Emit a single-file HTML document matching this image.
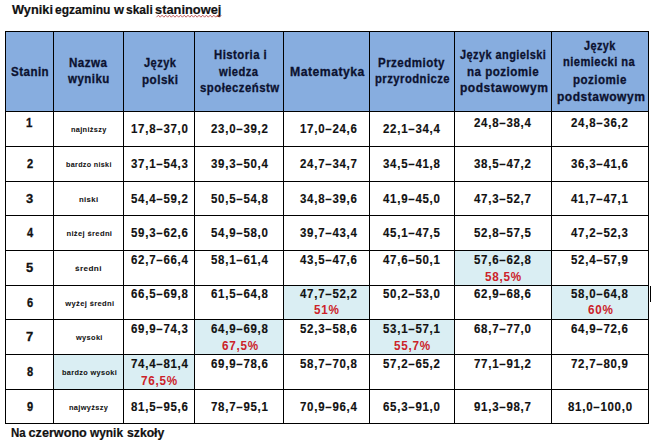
<!DOCTYPE html><html><head><meta charset="utf-8"><style>html,body{margin:0;padding:0;width:651px;height:440px;overflow:hidden;background:#fff}
.t{position:absolute;white-space:nowrap;font-family:"Liberation Sans", sans-serif;font-weight:bold;transform-origin:0 0;-webkit-text-stroke:0.15px currentColor}
.f{position:absolute}
.v{position:absolute;background:#000;width:1px}
.h{position:absolute;background:#000;height:1px}
</style></head><body><div class="f" style="left:5px;top:31px;width:643px;height:80px;background:#87addf"></div>
<div class="f" style="left:454px;top:250px;width:97px;height:35px;background:#daeef3"></div>
<div class="f" style="left:283px;top:285px;width:86px;height:34px;background:#daeef3"></div>
<div class="f" style="left:551px;top:285px;width:97px;height:34px;background:#daeef3"></div>
<div class="f" style="left:194px;top:319px;width:89px;height:35px;background:#daeef3"></div>
<div class="f" style="left:369px;top:319px;width:85px;height:35px;background:#daeef3"></div>
<div class="f" style="left:123px;top:354px;width:71px;height:35px;background:#daeef3"></div>
<div class="f" style="left:53px;top:354px;width:70px;height:35px;background:#daeef3"></div>
<div class="v" style="left:5px;top:31px;height:393px"></div>
<div class="v" style="left:53px;top:31px;height:393px"></div>
<div class="v" style="left:123px;top:31px;height:393px"></div>
<div class="v" style="left:194px;top:31px;height:393px"></div>
<div class="v" style="left:283px;top:31px;height:393px"></div>
<div class="v" style="left:369px;top:31px;height:393px"></div>
<div class="v" style="left:454px;top:31px;height:393px"></div>
<div class="v" style="left:551px;top:31px;height:393px"></div>
<div class="v" style="left:648px;top:31px;height:393px"></div>
<div class="h" style="left:5px;top:31px;width:644px"></div>
<div class="h" style="left:5px;top:111px;width:644px"></div>
<div class="h" style="left:5px;top:146px;width:644px"></div>
<div class="h" style="left:5px;top:181px;width:644px"></div>
<div class="h" style="left:5px;top:215px;width:644px"></div>
<div class="h" style="left:5px;top:250px;width:644px"></div>
<div class="h" style="left:5px;top:285px;width:644px"></div>
<div class="h" style="left:5px;top:319px;width:644px"></div>
<div class="h" style="left:5px;top:354px;width:644px"></div>
<div class="h" style="left:5px;top:389px;width:644px"></div>
<div class="h" style="left:5px;top:423px;width:644px"></div>
<div class="f" style="left:650px;top:286px;width:2px;height:16px;background:#000"></div>
<div class="t" style="left:11.95px;top:3.00px;font-size:13.37px;line-height:13.37px;letter-spacing:0.0px;color:#111111;-webkit-text-stroke:0.2px currentColor;transform:scaleX(0.9571)">Wyniki</div>
<div class="t" style="left:54.85px;top:3.00px;font-size:13.37px;line-height:13.37px;letter-spacing:0.0px;color:#111111;-webkit-text-stroke:0.2px currentColor;transform:scaleX(0.9000)">egzaminu</div>
<div class="t" style="left:113.55px;top:3.00px;font-size:13.37px;line-height:13.37px;letter-spacing:0.0px;color:#111111;-webkit-text-stroke:0.2px currentColor;transform:scaleX(0.9600)">w</div>
<div class="t" style="left:125.75px;top:3.00px;font-size:13.37px;line-height:13.37px;letter-spacing:0.0px;color:#111111;-webkit-text-stroke:0.2px currentColor;transform:scaleX(0.9000)">skali</div>
<div class="t" style="left:155.49px;top:3.00px;font-size:13.37px;line-height:13.37px;letter-spacing:0.0px;color:#111111;-webkit-text-stroke:0.2px currentColor;transform:scaleX(0.9612)">staninowej</div>
<div class="t" style="left:11.34px;top:426.90px;font-size:12.65px;line-height:12.65px;letter-spacing:0.0px;color:#111111;-webkit-text-stroke:0.2px currentColor;transform:scaleX(0.9067)">Na</div>
<div class="t" style="left:28.55px;top:426.90px;font-size:12.65px;line-height:12.65px;letter-spacing:0.0px;color:#111111;-webkit-text-stroke:0.2px currentColor;transform:scaleX(1.0000)">czerwono</div>
<div class="t" style="left:89.75px;top:426.90px;font-size:12.65px;line-height:12.65px;letter-spacing:0.0px;color:#111111;-webkit-text-stroke:0.2px currentColor;transform:scaleX(0.9400)">wynik</div>
<div class="t" style="left:126.59px;top:426.90px;font-size:12.65px;line-height:12.65px;letter-spacing:0.0px;color:#111111;-webkit-text-stroke:0.2px currentColor;transform:scaleX(0.9649)">szkoły</div>
<div class="t" style="left:10.72px;top:66.00px;font-size:12.50px;line-height:12.50px;letter-spacing:0.5px;color:#0c1230;-webkit-text-stroke:0.3px currentColor;transform:scaleX(0.9256)">Stanin</div>
<div class="t" style="left:68.82px;top:57.00px;font-size:12.50px;line-height:12.50px;letter-spacing:0.5px;color:#0c1230;-webkit-text-stroke:0.3px currentColor;transform:scaleX(0.9300)">Nazwa</div>
<div class="t" style="left:68.05px;top:73.40px;font-size:12.50px;line-height:12.50px;letter-spacing:0.5px;color:#0c1230;-webkit-text-stroke:0.3px currentColor;transform:scaleX(0.9205)">wyniku</div>
<div class="t" style="left:143.85px;top:57.00px;font-size:12.50px;line-height:12.50px;letter-spacing:0.5px;color:#0c1230;-webkit-text-stroke:0.3px currentColor;transform:scaleX(0.8861)">Język</div>
<div class="t" style="left:141.72px;top:73.60px;font-size:12.50px;line-height:12.50px;letter-spacing:0.5px;color:#0c1230;-webkit-text-stroke:0.3px currentColor;transform:scaleX(0.9324)">polski</div>
<div class="t" style="left:213.94px;top:48.70px;font-size:12.50px;line-height:12.50px;letter-spacing:0.5px;color:#0c1230;-webkit-text-stroke:0.3px currentColor;transform:scaleX(0.9089)">Historia i</div>
<div class="t" style="left:219.45px;top:66.10px;font-size:12.50px;line-height:12.50px;letter-spacing:0.5px;color:#0c1230;-webkit-text-stroke:0.3px currentColor;transform:scaleX(0.8955)">wiedza</div>
<div class="t" style="left:200.34px;top:82.10px;font-size:12.50px;line-height:12.50px;letter-spacing:0.5px;color:#0c1230;-webkit-text-stroke:0.3px currentColor;transform:scaleX(0.9116)">społeczeństw</div>
<div class="t" style="left:289.67px;top:65.60px;font-size:12.50px;line-height:12.50px;letter-spacing:0.5px;color:#0c1230;-webkit-text-stroke:0.3px currentColor;transform:scaleX(0.9773)">Matematyka</div>
<div class="t" style="left:377.83px;top:57.20px;font-size:12.50px;line-height:12.50px;letter-spacing:0.5px;color:#0c1230;-webkit-text-stroke:0.3px currentColor;transform:scaleX(0.9239)">Przedmioty</div>
<div class="t" style="left:375.15px;top:73.30px;font-size:12.50px;line-height:12.50px;letter-spacing:0.5px;color:#0c1230;-webkit-text-stroke:0.3px currentColor;transform:scaleX(0.9037)">przyrodnicze</div>
<div class="t" style="left:460.45px;top:48.90px;font-size:12.50px;line-height:12.50px;letter-spacing:0.5px;color:#0c1230;-webkit-text-stroke:0.3px currentColor;transform:scaleX(0.8763)">Język angielski</div>
<div class="t" style="left:467.02px;top:66.10px;font-size:12.50px;line-height:12.50px;letter-spacing:0.5px;color:#0c1230;-webkit-text-stroke:0.3px currentColor;transform:scaleX(0.9276)">na poziomie</div>
<div class="t" style="left:460.19px;top:81.80px;font-size:12.50px;line-height:12.50px;letter-spacing:0.5px;color:#0c1230;-webkit-text-stroke:0.3px currentColor;transform:scaleX(0.9640)">podstawowym</div>
<div class="t" style="left:584.25px;top:39.80px;font-size:12.50px;line-height:12.50px;letter-spacing:0.5px;color:#0c1230;-webkit-text-stroke:0.3px currentColor;transform:scaleX(0.8694)">Język</div>
<div class="t" style="left:563.06px;top:56.40px;font-size:12.50px;line-height:12.50px;letter-spacing:0.5px;color:#0c1230;-webkit-text-stroke:0.3px currentColor;transform:scaleX(0.8900)">niemiecki na</div>
<div class="t" style="left:573.32px;top:73.50px;font-size:12.50px;line-height:12.50px;letter-spacing:0.5px;color:#0c1230;-webkit-text-stroke:0.3px currentColor;transform:scaleX(0.9268)">poziomie</div>
<div class="t" style="left:556.99px;top:90.60px;font-size:12.50px;line-height:12.50px;letter-spacing:0.5px;color:#0c1230;-webkit-text-stroke:0.3px currentColor;transform:scaleX(0.9640)">podstawowym</div>
<div class="t" style="left:26.13px;top:117.00px;font-size:12.50px;line-height:12.50px;letter-spacing:0.8px;color:#111111;-webkit-text-stroke:0.3px currentColor;transform:scaleX(0.9167)">1</div>
<div class="t" style="left:71.28px;top:125.90px;font-size:7.59px;line-height:7.59px;letter-spacing:0.35px;color:#111111;-webkit-text-stroke:0.05px currentColor;transform:scaleX(0.9686)">najniższy</div>
<div class="t" style="left:130.79px;top:122.60px;font-size:12.50px;line-height:12.50px;letter-spacing:0.8px;color:#111111;transform:scaleX(0.9180)">17,8–37,0</div>
<div class="t" style="left:211.04px;top:122.60px;font-size:12.50px;line-height:12.50px;letter-spacing:0.8px;color:#111111;transform:scaleX(0.9180)">23,0–39,2</div>
<div class="t" style="left:299.54px;top:122.60px;font-size:12.50px;line-height:12.50px;letter-spacing:0.8px;color:#111111;transform:scaleX(0.9180)">17,0–24,6</div>
<div class="t" style="left:382.84px;top:122.60px;font-size:12.50px;line-height:12.50px;letter-spacing:0.8px;color:#111111;transform:scaleX(0.9180)">22,1–34,4</div>
<div class="t" style="left:473.79px;top:117.10px;font-size:12.50px;line-height:12.50px;letter-spacing:0.8px;color:#111111;transform:scaleX(0.9180)">24,8–38,4</div>
<div class="t" style="left:571.14px;top:117.10px;font-size:12.50px;line-height:12.50px;letter-spacing:0.8px;color:#111111;transform:scaleX(0.9180)">24,8–36,2</div>
<div class="t" style="left:26.70px;top:158.00px;font-size:12.50px;line-height:12.50px;letter-spacing:0.8px;color:#111111;-webkit-text-stroke:0.3px currentColor;transform:scaleX(0.8857)">2</div>
<div class="t" style="left:65.61px;top:160.90px;font-size:7.59px;line-height:7.59px;letter-spacing:0.35px;color:#111111;-webkit-text-stroke:0.05px currentColor;transform:scaleX(0.9447)">bardzo niski</div>
<div class="t" style="left:130.79px;top:158.10px;font-size:12.50px;line-height:12.50px;letter-spacing:0.8px;color:#111111;transform:scaleX(0.9180)">37,1–54,3</div>
<div class="t" style="left:211.04px;top:158.10px;font-size:12.50px;line-height:12.50px;letter-spacing:0.8px;color:#111111;transform:scaleX(0.9180)">39,3–50,4</div>
<div class="t" style="left:299.54px;top:158.10px;font-size:12.50px;line-height:12.50px;letter-spacing:0.8px;color:#111111;transform:scaleX(0.9180)">24,7–34,7</div>
<div class="t" style="left:382.84px;top:158.10px;font-size:12.50px;line-height:12.50px;letter-spacing:0.8px;color:#111111;transform:scaleX(0.9180)">34,5–41,8</div>
<div class="t" style="left:473.79px;top:158.10px;font-size:12.50px;line-height:12.50px;letter-spacing:0.8px;color:#111111;transform:scaleX(0.9180)">38,5–47,2</div>
<div class="t" style="left:571.14px;top:158.10px;font-size:12.50px;line-height:12.50px;letter-spacing:0.8px;color:#111111;transform:scaleX(0.9180)">36,3–41,6</div>
<div class="t" style="left:25.67px;top:193.00px;font-size:12.50px;line-height:12.50px;letter-spacing:0.8px;color:#111111;-webkit-text-stroke:0.3px currentColor;transform:scaleX(1.0333)">3</div>
<div class="t" style="left:79.13px;top:195.90px;font-size:7.59px;line-height:7.59px;letter-spacing:0.35px;color:#111111;-webkit-text-stroke:0.05px currentColor;transform:scaleX(1.0235)">niski</div>
<div class="t" style="left:130.79px;top:193.00px;font-size:12.50px;line-height:12.50px;letter-spacing:0.8px;color:#111111;transform:scaleX(0.9180)">54,4–59,2</div>
<div class="t" style="left:211.04px;top:193.00px;font-size:12.50px;line-height:12.50px;letter-spacing:0.8px;color:#111111;transform:scaleX(0.9180)">50,5–54,8</div>
<div class="t" style="left:299.54px;top:193.00px;font-size:12.50px;line-height:12.50px;letter-spacing:0.8px;color:#111111;transform:scaleX(0.9180)">34,8–39,6</div>
<div class="t" style="left:382.84px;top:193.00px;font-size:12.50px;line-height:12.50px;letter-spacing:0.8px;color:#111111;transform:scaleX(0.9180)">41,9–45,0</div>
<div class="t" style="left:473.79px;top:193.00px;font-size:12.50px;line-height:12.50px;letter-spacing:0.8px;color:#111111;transform:scaleX(0.9180)">47,3–52,7</div>
<div class="t" style="left:571.14px;top:193.00px;font-size:12.50px;line-height:12.50px;letter-spacing:0.8px;color:#111111;transform:scaleX(0.9180)">41,7–47,1</div>
<div class="t" style="left:26.70px;top:227.00px;font-size:12.50px;line-height:12.50px;letter-spacing:0.8px;color:#111111;-webkit-text-stroke:0.3px currentColor;transform:scaleX(0.8857)">4</div>
<div class="t" style="left:66.45px;top:229.80px;font-size:7.59px;line-height:7.59px;letter-spacing:0.35px;color:#111111;-webkit-text-stroke:0.05px currentColor;transform:scaleX(1.0000)">niżej średni</div>
<div class="t" style="left:130.79px;top:226.90px;font-size:12.50px;line-height:12.50px;letter-spacing:0.8px;color:#111111;transform:scaleX(0.9180)">59,3–62,6</div>
<div class="t" style="left:211.04px;top:226.90px;font-size:12.50px;line-height:12.50px;letter-spacing:0.8px;color:#111111;transform:scaleX(0.9180)">54,9–58,0</div>
<div class="t" style="left:299.54px;top:226.90px;font-size:12.50px;line-height:12.50px;letter-spacing:0.8px;color:#111111;transform:scaleX(0.9180)">39,7–43,4</div>
<div class="t" style="left:382.84px;top:226.90px;font-size:12.50px;line-height:12.50px;letter-spacing:0.8px;color:#111111;transform:scaleX(0.9180)">45,1–47,5</div>
<div class="t" style="left:473.79px;top:226.90px;font-size:12.50px;line-height:12.50px;letter-spacing:0.8px;color:#111111;transform:scaleX(0.9180)">52,8–57,5</div>
<div class="t" style="left:571.14px;top:226.90px;font-size:12.50px;line-height:12.50px;letter-spacing:0.8px;color:#111111;transform:scaleX(0.9180)">47,2–52,3</div>
<div class="t" style="left:25.67px;top:262.00px;font-size:12.50px;line-height:12.50px;letter-spacing:0.8px;color:#111111;-webkit-text-stroke:0.3px currentColor;transform:scaleX(1.0333)">5</div>
<div class="t" style="left:75.47px;top:264.60px;font-size:7.59px;line-height:7.59px;letter-spacing:0.35px;color:#111111;-webkit-text-stroke:0.05px currentColor;transform:scaleX(1.0826)">średni</div>
<div class="t" style="left:130.79px;top:254.00px;font-size:12.50px;line-height:12.50px;letter-spacing:0.8px;color:#111111;transform:scaleX(0.9180)">62,7–66,4</div>
<div class="t" style="left:211.04px;top:254.00px;font-size:12.50px;line-height:12.50px;letter-spacing:0.8px;color:#111111;transform:scaleX(0.9180)">58,1–61,4</div>
<div class="t" style="left:299.54px;top:254.00px;font-size:12.50px;line-height:12.50px;letter-spacing:0.8px;color:#111111;transform:scaleX(0.9180)">43,5–47,6</div>
<div class="t" style="left:382.84px;top:254.00px;font-size:12.50px;line-height:12.50px;letter-spacing:0.8px;color:#111111;transform:scaleX(0.9180)">47,6–50,1</div>
<div class="t" style="left:473.79px;top:254.00px;font-size:12.50px;line-height:12.50px;letter-spacing:0.8px;color:#111111;transform:scaleX(0.9180)">57,6–62,8</div>
<div class="t" style="left:571.14px;top:254.00px;font-size:12.50px;line-height:12.50px;letter-spacing:0.8px;color:#111111;transform:scaleX(0.9180)">52,4–57,9</div>
<div class="t" style="left:26.70px;top:297.00px;font-size:12.50px;line-height:12.50px;letter-spacing:0.8px;color:#111111;-webkit-text-stroke:0.3px currentColor;transform:scaleX(0.8857)">6</div>
<div class="t" style="left:65.25px;top:299.70px;font-size:7.59px;line-height:7.59px;letter-spacing:0.35px;color:#111111;-webkit-text-stroke:0.05px currentColor;transform:scaleX(1.0000)">wyżej średni</div>
<div class="t" style="left:130.79px;top:287.60px;font-size:12.50px;line-height:12.50px;letter-spacing:0.8px;color:#111111;transform:scaleX(0.9180)">66,5–69,8</div>
<div class="t" style="left:211.04px;top:287.60px;font-size:12.50px;line-height:12.50px;letter-spacing:0.8px;color:#111111;transform:scaleX(0.9180)">61,5–64,8</div>
<div class="t" style="left:299.54px;top:287.60px;font-size:12.50px;line-height:12.50px;letter-spacing:0.8px;color:#111111;transform:scaleX(0.9180)">47,7–52,2</div>
<div class="t" style="left:382.84px;top:287.60px;font-size:12.50px;line-height:12.50px;letter-spacing:0.8px;color:#111111;transform:scaleX(0.9180)">50,2–53,0</div>
<div class="t" style="left:473.79px;top:287.60px;font-size:12.50px;line-height:12.50px;letter-spacing:0.8px;color:#111111;transform:scaleX(0.9180)">62,9–68,6</div>
<div class="t" style="left:571.14px;top:287.60px;font-size:12.50px;line-height:12.50px;letter-spacing:0.8px;color:#111111;transform:scaleX(0.9180)">58,0–64,8</div>
<div class="t" style="left:25.67px;top:331.00px;font-size:12.50px;line-height:12.50px;letter-spacing:0.8px;color:#111111;-webkit-text-stroke:0.3px currentColor;transform:scaleX(1.0333)">7</div>
<div class="t" style="left:75.85px;top:333.50px;font-size:7.59px;line-height:7.59px;letter-spacing:0.35px;color:#111111;-webkit-text-stroke:0.05px currentColor;transform:scaleX(0.9778)">wysoki</div>
<div class="t" style="left:130.79px;top:322.80px;font-size:12.50px;line-height:12.50px;letter-spacing:0.8px;color:#111111;transform:scaleX(0.9180)">69,9–74,3</div>
<div class="t" style="left:211.04px;top:322.80px;font-size:12.50px;line-height:12.50px;letter-spacing:0.8px;color:#111111;transform:scaleX(0.9180)">64,9–69,8</div>
<div class="t" style="left:299.54px;top:322.80px;font-size:12.50px;line-height:12.50px;letter-spacing:0.8px;color:#111111;transform:scaleX(0.9180)">52,3–58,6</div>
<div class="t" style="left:382.84px;top:322.80px;font-size:12.50px;line-height:12.50px;letter-spacing:0.8px;color:#111111;transform:scaleX(0.9180)">53,1–57,1</div>
<div class="t" style="left:473.79px;top:322.80px;font-size:12.50px;line-height:12.50px;letter-spacing:0.8px;color:#111111;transform:scaleX(0.9180)">68,7–77,0</div>
<div class="t" style="left:571.14px;top:322.80px;font-size:12.50px;line-height:12.50px;letter-spacing:0.8px;color:#111111;transform:scaleX(0.9180)">64,9–72,6</div>
<div class="t" style="left:26.70px;top:366.00px;font-size:12.50px;line-height:12.50px;letter-spacing:0.8px;color:#111111;-webkit-text-stroke:0.3px currentColor;transform:scaleX(0.8857)">8</div>
<div class="t" style="left:61.58px;top:368.50px;font-size:7.59px;line-height:7.59px;letter-spacing:0.35px;color:#111111;-webkit-text-stroke:0.05px currentColor;transform:scaleX(0.9691)">bardzo wysoki</div>
<div class="t" style="left:130.79px;top:357.90px;font-size:12.50px;line-height:12.50px;letter-spacing:0.8px;color:#111111;transform:scaleX(0.9180)">74,4–81,4</div>
<div class="t" style="left:211.04px;top:357.90px;font-size:12.50px;line-height:12.50px;letter-spacing:0.8px;color:#111111;transform:scaleX(0.9180)">69,9–78,6</div>
<div class="t" style="left:299.54px;top:357.90px;font-size:12.50px;line-height:12.50px;letter-spacing:0.8px;color:#111111;transform:scaleX(0.9180)">58,7–70,8</div>
<div class="t" style="left:382.84px;top:357.90px;font-size:12.50px;line-height:12.50px;letter-spacing:0.8px;color:#111111;transform:scaleX(0.9180)">57,2–65,2</div>
<div class="t" style="left:473.79px;top:357.90px;font-size:12.50px;line-height:12.50px;letter-spacing:0.8px;color:#111111;transform:scaleX(0.9180)">77,1–91,2</div>
<div class="t" style="left:571.14px;top:357.90px;font-size:12.50px;line-height:12.50px;letter-spacing:0.8px;color:#111111;transform:scaleX(0.9180)">72,7–80,9</div>
<div class="t" style="left:26.70px;top:401.00px;font-size:12.50px;line-height:12.50px;letter-spacing:0.8px;color:#111111;-webkit-text-stroke:0.3px currentColor;transform:scaleX(0.8857)">9</div>
<div class="t" style="left:68.87px;top:404.20px;font-size:7.59px;line-height:7.59px;letter-spacing:0.35px;color:#111111;-webkit-text-stroke:0.05px currentColor;transform:scaleX(0.9769)">najwyższy</div>
<div class="t" style="left:130.79px;top:400.80px;font-size:12.50px;line-height:12.50px;letter-spacing:0.8px;color:#111111;transform:scaleX(0.9180)">81,5–95,6</div>
<div class="t" style="left:211.04px;top:400.80px;font-size:12.50px;line-height:12.50px;letter-spacing:0.8px;color:#111111;transform:scaleX(0.9180)">78,7–95,1</div>
<div class="t" style="left:299.54px;top:400.80px;font-size:12.50px;line-height:12.50px;letter-spacing:0.8px;color:#111111;transform:scaleX(0.9180)">70,9–96,4</div>
<div class="t" style="left:382.84px;top:400.80px;font-size:12.50px;line-height:12.50px;letter-spacing:0.8px;color:#111111;transform:scaleX(0.9180)">65,3–91,0</div>
<div class="t" style="left:473.79px;top:400.80px;font-size:12.50px;line-height:12.50px;letter-spacing:0.8px;color:#111111;transform:scaleX(0.9180)">91,3–98,7</div>
<div class="t" style="left:567.58px;top:400.80px;font-size:12.50px;line-height:12.50px;letter-spacing:0.8px;color:#111111;transform:scaleX(0.9180)">81,0–100,0</div>
<div class="t" style="left:485.26px;top:271.00px;font-size:12.50px;line-height:12.50px;letter-spacing:0.8px;color:#cc2229;-webkit-text-stroke:0;transform:scaleX(0.9351)">58,5%</div>
<div class="t" style="left:314.38px;top:304.30px;font-size:12.50px;line-height:12.50px;letter-spacing:0.8px;color:#cc2229;-webkit-text-stroke:0;transform:scaleX(0.9351)">51%</div>
<div class="t" style="left:588.34px;top:304.30px;font-size:12.50px;line-height:12.50px;letter-spacing:0.8px;color:#cc2229;-webkit-text-stroke:0;transform:scaleX(0.9351)">60%</div>
<div class="t" style="left:221.73px;top:339.60px;font-size:12.50px;line-height:12.50px;letter-spacing:0.8px;color:#cc2229;-webkit-text-stroke:0;transform:scaleX(0.9351)">67,5%</div>
<div class="t" style="left:394.26px;top:339.60px;font-size:12.50px;line-height:12.50px;letter-spacing:0.8px;color:#cc2229;-webkit-text-stroke:0;transform:scaleX(0.9351)">55,7%</div>
<div class="t" style="left:141.26px;top:374.50px;font-size:12.50px;line-height:12.50px;letter-spacing:0.8px;color:#cc2229;-webkit-text-stroke:0;transform:scaleX(0.9351)">76,5%</div>
<svg style="position:absolute;left:0;top:0" width="651" height="30"><path d="M156.50 17.2 L158.35 15.2 L160.20 17.2 L162.05 15.2 L163.90 17.2 L165.75 15.2 L167.60 17.2 L169.45 15.2 L171.30 17.2 L173.15 15.2 L175.00 17.2 L176.85 15.2 L178.70 17.2 L180.55 15.2 L182.40 17.2 L184.25 15.2 L186.10 17.2 L187.95 15.2 L189.80 17.2 L191.65 15.2 L193.50 17.2 L195.35 15.2 L197.20 17.2 L199.05 15.2 L200.90 17.2 L202.75 15.2 L204.60 17.2 L206.45 15.2 L208.30 17.2 L210.15 15.2 L212.00 17.2 L213.85 15.2 L215.70 17.2 L217.55 15.2 L219.40 17.2 L221.25 15.2 " fill="none" stroke="#b03030" stroke-width="0.75"/></svg></body></html>
